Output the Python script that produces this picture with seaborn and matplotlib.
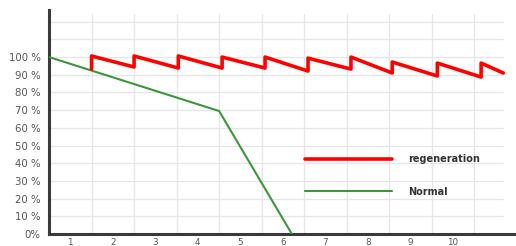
import matplotlib
matplotlib.use("Agg")
import matplotlib.pyplot as plt
import seaborn as sns
import pandas as pd

# Data
regen_x = [1, 1, 2, 2, 3.04, 3.04, 4.07, 4.07, 5.08, 5.08, 6.09, 6.09, 7.1, 7.1,
           8.07, 8.07, 9.13, 9.13, 10.16, 10.16, 10.68]
regen_y = [93.2, 100.6, 94.4, 100.6, 93.8, 100.6, 93.8, 100, 93.8, 100, 92.1, 99.4,
           93.2, 100, 91, 97.2, 89.3, 96.6, 88.7, 96.6, 91]
normal_x = [0, 4, 5.71]
normal_y = [100, 69.5, 0]
x_labels = ["1", "2", "3", "4", "5", "6", "7", "8", "9", "10"]
y_values = [0, 10, 20, 30, 40, 50, 60, 70, 80, 90, 100]
y_labels = ["0%", "10 %", "20 %", "30 %", "40 %", "50 %", "60 %", "70 %", "80 %", "90 %", "100 %"]

sns.set_style("white")
fig = plt.figure(figsize=(5.16, 2.46), dpi=100)
ax = fig.add_axes([49 / 516, 12 / 246, 467 / 516, 224 / 246])

# grid
grid_c = "#e4e6e8"
for v in range(10, 130, 10):
    ax.axhline(v, xmin=0, xmax=10.68 / 10.98, color=grid_c, lw=0.9, zorder=0)
for k in range(1, 11):
    ax.axvline(k, ymin=0, ymax=0.98, color=grid_c, lw=0.9, zorder=0)

df_r = pd.DataFrame({"x": regen_x, "y": regen_y})
df_n = pd.DataFrame({"x": normal_x, "y": normal_y})
sns.lineplot(data=df_n, x="x", y="y", sort=False, estimator=None, ax=ax,
             color="#3a983a", lw=1.5, label="Normal", zorder=3)
sns.lineplot(data=df_r, x="x", y="y", sort=False, estimator=None, ax=ax,
             color="#ff0000", lw=2.6, label="regeneration", zorder=4)

ax.set_xlim(0, 10.98)
ax.set_ylim(0, 126.6)
ax.set_xlabel("")
ax.set_ylabel("")
ax.set_yticks(y_values)
ax.set_yticklabels(y_labels)
ax.set_xticks([i + 0.5 for i in range(10)])
ax.set_xticklabels(x_labels)
ax.tick_params(axis="y", length=0, pad=6, labelsize=7.3, labelcolor="#555555")
ax.tick_params(axis="x", length=0, pad=3, labelsize=6.3, labelcolor="#555555")

for s in ["top", "right"]:
    ax.spines[s].set_visible(False)
for s in ["left", "bottom"]:
    ax.spines[s].set_color("#3a3a3a")
    ax.spines[s].set_linewidth(2.2)

h, l = ax.get_legend_handles_labels()
order = [l.index("regeneration"), l.index("Normal")]
leg = ax.legend([h[i] for i in order], [l[i] for i in order], frameon=False,
                loc="upper left", bbox_to_anchor=(0.548, 0.357), borderpad=0,
                borderaxespad=0, handlelength=9, handletextpad=1.6,
                labelspacing=2.35, prop={"size": 7, "weight": "bold"})
for t in leg.get_texts():
    t.set_color("#333333")

fig.savefig("out.png", dpi=100)
